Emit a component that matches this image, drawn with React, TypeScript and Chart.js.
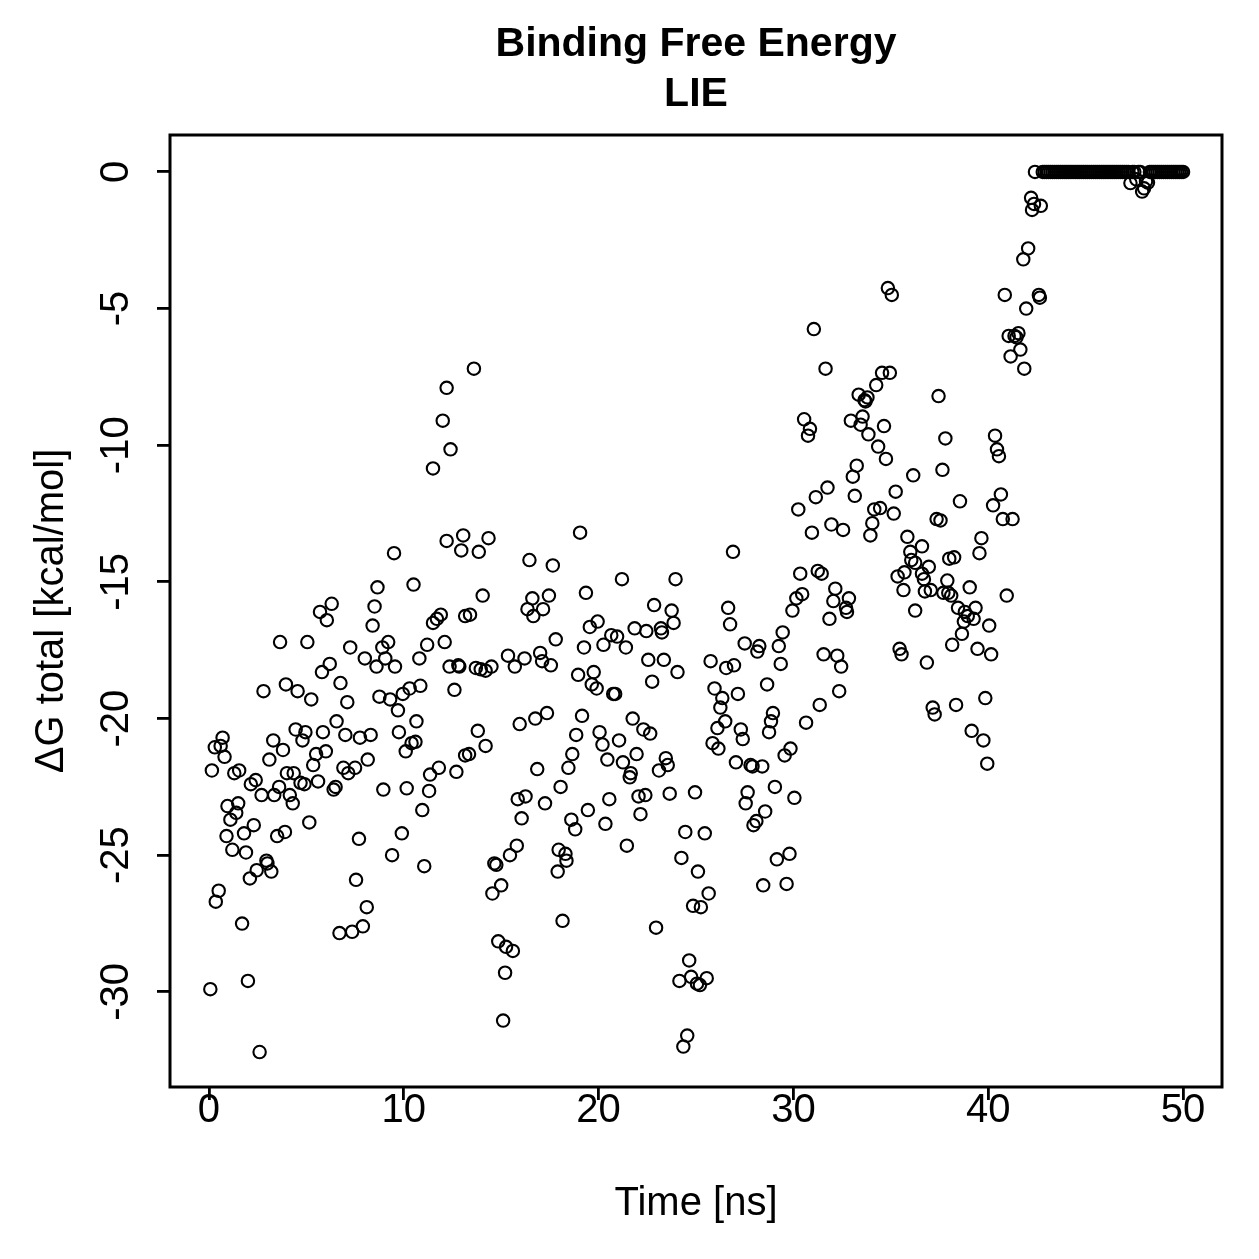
import { useEffect, useRef } from "react";
import { Chart, registerables } from "chart.js";

Chart.register(...registerables);

// ---- Data: [time (ns), ΔG total (kcal/mol)] ----
const points0to10: [number, number][] = [
  [0.07,-29.9],[0.15,-21.9],[0.3,-21.05],[0.35,-26.7],[0.5,-26.3],[0.6,-21.0],[0.7,-20.7],[0.8,-21.4],[0.9,-24.3],[0.95,-23.2],
  [1.1,-23.7],[1.2,-24.8],[1.3,-22.0],[1.4,-23.45],[1.5,-23.1],[1.55,-21.9],[1.7,-27.5],[1.8,-24.2],[1.9,-24.9],[2.0,-29.6],
  [2.1,-25.85],[2.15,-22.4],[2.3,-23.9],[2.4,-22.25],[2.45,-25.55],[2.6,-32.2],[2.7,-22.8],[2.8,-19.0],[2.95,-25.2],[3.0,-25.3],
  [3.1,-21.5],[3.2,-25.6],[3.3,-20.8],[3.35,-22.8],[3.5,-24.3],[3.6,-22.5],[3.65,-17.2],[3.8,-21.15],[3.9,-24.15],[3.95,-18.75],
  [4.0,-22.0],[4.15,-22.8],[4.3,-23.1],[4.35,-22.0],[4.45,-20.4],[4.55,-19.0],[4.7,-22.35],[4.8,-20.8],[4.9,-22.4],[4.95,-20.5],
  [5.05,-17.2],[5.15,-23.8],[5.25,-19.3],[5.35,-21.7],[5.5,-21.3],[5.6,-22.3],[5.7,-16.1],[5.8,-18.3],[5.85,-20.5],[6.0,-21.2],
  [6.05,-16.4],[6.2,-18.0],[6.3,-15.8],[6.4,-22.6],[6.5,-22.5],[6.55,-20.1],[6.7,-27.85],[6.75,-18.7],[6.9,-21.8],[7.0,-20.6],
  [7.1,-19.4],[7.15,-22.0],[7.25,-17.4],[7.35,-27.8],[7.5,-21.8],[7.55,-25.9],[7.7,-24.4],[7.75,-20.7],[7.9,-27.6],[8.0,-17.8],
  [8.1,-26.9],[8.15,-21.5],[8.3,-20.6],[8.4,-16.6],[8.5,-15.9],[8.6,-18.1],[8.65,-15.2],[8.75,-19.2],[8.9,-17.4],[8.95,-22.6],
  [9.05,-17.8],[9.2,-17.2],[9.3,-19.3],[9.4,-25.0],[9.5,-13.95],[9.55,-18.1],[9.7,-19.7],[9.75,-20.5],[9.9,-24.2],[9.95,-19.1],
];

const points10to20: [number, number][] = [
  [10.1,-21.2],[10.15,-22.55],[10.3,-18.9],[10.4,-20.9],[10.5,-15.1],[10.6,-20.85],[10.65,-20.1],[10.8,-17.8],[10.85,-18.8],[10.95,-23.35],
  [11.05,-25.4],[11.2,-17.3],[11.3,-22.65],[11.35,-22.05],[11.5,-16.5],[11.5,-10.85],[11.7,-16.35],[11.8,-21.8],[11.9,-16.2],[12.0,-9.1],
  [12.1,-17.2],[12.2,-7.9],[12.2,-13.5],[12.35,-18.1],[12.4,-10.15],[12.6,-18.95],[12.7,-21.95],[12.8,-18.05],[12.85,-18.1],[12.95,-13.85],
  [13.05,-13.3],[13.15,-16.25],[13.15,-21.35],[13.35,-21.3],[13.4,-16.2],[13.6,-7.2],[13.7,-18.15],[13.8,-20.45],[13.85,-13.9],[13.95,-18.2],
  [14.05,-15.5],[14.2,-18.25],[14.2,-21.0],[14.35,-13.4],[14.5,-18.1],[14.55,-26.4],[14.65,-25.3],[14.75,-25.35],[14.85,-28.15],[15.0,-26.1],
  [15.1,-31.05],[15.2,-29.3],[15.25,-28.35],[15.35,-17.7],[15.45,-25.0],[15.6,-28.5],[15.7,-18.1],[15.8,-24.65],[15.85,-22.95],[15.95,-20.2],
  [16.05,-23.65],[16.2,-17.8],[16.25,-22.85],[16.35,-16.0],[16.45,-14.2],[16.6,-15.6],[16.65,-16.25],[16.75,-20.0],[16.85,-21.85],[17.0,-17.6],
  [17.1,-17.9],[17.15,-16.0],[17.25,-23.1],[17.35,-19.8],[17.45,-15.5],[17.55,-18.05],[17.65,-14.4],[17.8,-17.1],[17.9,-25.6],[17.95,-24.8],
  [18.05,-22.5],[18.15,-27.4],[18.3,-24.95],[18.35,-25.2],[18.45,-21.8],[18.6,-23.7],[18.65,-21.3],[18.8,-24.05],[18.85,-20.6],[18.95,-18.4],
  [19.05,-13.2],[19.15,-19.9],[19.25,-17.4],[19.35,-15.4],[19.45,-23.35],[19.55,-16.65],[19.65,-18.75],[19.75,-18.3],[19.9,-18.9],[19.95,-16.45],
];

const points20to30: [number, number][] = [
  [20.05,-20.5],[20.2,-20.95],[20.25,-17.3],[20.35,-23.85],[20.45,-21.5],[20.55,-22.95],[20.65,-16.95],[20.75,-19.1],[20.85,-19.1],[20.95,-17.0],
  [21.05,-20.8],[21.2,-14.9],[21.25,-21.6],[21.4,-17.4],[21.45,-24.65],[21.6,-22.15],[21.65,-22.0],[21.75,-20.0],[21.85,-16.7],[21.95,-21.3],
  [22.05,-22.85],[22.15,-23.5],[22.3,-20.4],[22.4,-22.8],[22.45,-16.8],[22.55,-17.85],[22.65,-20.55],[22.75,-18.65],[22.85,-15.85],[22.95,-27.65],
  [23.1,-21.9],[23.2,-16.7],[23.25,-16.85],[23.35,-17.85],[23.45,-21.45],[23.55,-21.7],[23.65,-22.75],[23.75,-16.05],[23.85,-16.5],[23.95,-14.9],
  [24.05,-18.3],[24.15,-29.6],[24.25,-25.1],[24.35,-32.0],[24.45,-24.15],[24.55,-31.6],[24.65,-28.85],[24.75,-29.45],[24.85,-26.85],[24.95,-22.7],
  [25.05,-29.7],[25.1,-25.6],[25.2,-29.75],[25.25,-26.9],[25.45,-24.2],[25.55,-29.5],[25.65,-26.4],[25.75,-17.9],[25.85,-20.9],[25.95,-18.9],
  [26.1,-20.35],[26.15,-21.1],[26.25,-19.6],[26.35,-19.25],[26.5,-20.1],[26.55,-18.15],[26.65,-15.95],[26.75,-16.55],[26.9,-13.9],[26.95,-18.05],
  [27.05,-21.6],[27.15,-19.1],[27.3,-20.4],[27.4,-20.75],[27.5,-17.25],[27.55,-23.1],[27.65,-22.7],[27.8,-21.7],[27.9,-21.75],[27.95,-23.9],
  [28.1,-23.75],[28.15,-17.55],[28.25,-17.35],[28.4,-21.75],[28.45,-26.1],[28.55,-23.4],[28.65,-18.75],[28.75,-20.5],[28.85,-20.1],[28.95,-19.8],
  [29.05,-22.5],[29.15,-25.15],[29.25,-17.35],[29.35,-18.0],[29.45,-16.85],[29.55,-21.35],[29.65,-26.05],[29.8,-24.95],[29.85,-21.1],[29.95,-16.05],
];

const points30to43: [number, number][] = [
  [30.05,-22.9],[30.15,-15.6],[30.25,-12.35],[30.35,-14.7],[30.45,-15.45],[30.55,-9.05],[30.65,-20.15],[30.75,-9.65],[30.85,-9.4],[30.95,-13.2],
  [31.05,-5.75],[31.15,-11.9],[31.25,-14.6],[31.35,-19.5],[31.45,-14.7],[31.55,-17.65],[31.65,-7.2],[31.75,-11.55],[31.85,-16.35],[31.95,-12.9],
  [32.05,-15.7],[32.15,-15.25],[32.25,-17.7],[32.35,-19.0],[32.45,-18.1],[32.55,-13.1],[32.7,-15.95],[32.75,-16.1],[32.85,-15.6],[32.95,-9.1],
  [33.05,-11.15],[33.15,-11.85],[33.25,-10.75],[33.35,-8.15],[33.45,-9.25],[33.55,-8.95],[33.65,-8.35],[33.7,-8.4],[33.8,-8.25],[33.85,-9.6],
  [33.95,-13.3],[34.05,-12.85],[34.15,-12.35],[34.25,-7.8],[34.35,-10.05],[34.45,-12.3],[34.55,-7.35],[34.65,-9.3],[34.75,-10.5],[34.85,-4.25],
  [34.95,-7.35],[35.05,-4.5],[35.15,-12.5],[35.25,-11.7],[35.35,-14.8],[35.45,-17.45],[35.55,-17.65],[35.65,-15.3],[35.7,-14.65],[35.85,-13.35],
  [36.0,-13.9],[36.05,-14.2],[36.15,-11.1],[36.25,-14.3],[36.25,-16.05],[36.6,-13.7],[36.6,-14.7],[36.7,-14.9],[36.75,-15.35],[36.85,-17.95],
  [36.95,-14.45],[37.05,-15.3],[37.15,-19.6],[37.25,-19.85],[37.35,-12.7],[37.45,-8.2],[37.55,-12.75],[37.65,-10.9],[37.7,-15.4],[37.8,-9.75],
  [37.9,-14.95],[37.95,-15.4],[38.0,-14.15],[38.1,-15.5],[38.15,-17.3],[38.25,-14.1],[38.35,-19.5],[38.45,-15.95],[38.55,-12.05],[38.65,-16.9],
  [38.75,-16.45],[38.8,-16.1],[38.95,-16.25],[39.05,-15.2],[39.15,-20.45],[39.25,-16.35],[39.35,-15.95],[39.45,-17.45],[39.55,-13.95],[39.65,-13.4],
  [39.75,-20.8],[39.85,-19.25],[39.95,-21.65],[40.05,-16.6],[40.15,-17.65],[40.25,-12.2],[40.35,-9.65],[40.45,-10.15],[40.55,-10.4],[40.65,-11.8],
  [40.75,-12.7],[40.85,-4.5],[40.95,-15.5],[41.05,-6.0],[41.15,-6.75],[41.25,-12.7],[41.35,-6.0],[41.45,-6.05],[41.55,-5.9],[41.65,-6.5],
  [41.8,-3.2],[41.85,-7.2],[41.95,-5.0],[42.05,-2.8],[42.2,-0.95],[42.25,-1.39],[42.35,-1.17],[42.4,0],[42.6,-4.5],[42.65,-4.6],[42.7,-1.24],
];

const plateauPoints: [number, number][] = [
  [42.8,0],[42.9,0],[43.0,0],[43.1,0],[43.2,0],[43.3,0],[43.4,0],[43.5,0],[43.6,0],[43.7,0],
  [43.8,0],[43.9,0],[44.0,0],[44.1,0],[44.2,0],[44.3,0],[44.4,0],[44.5,0],[44.6,0],[44.7,0],
  [44.8,0],[44.9,0],[45.0,0],[45.1,0],[45.2,0],[45.3,0],[45.4,0],[45.5,0],[45.6,0],[45.7,0],
  [45.8,0],[45.9,0],[46.0,0],[46.1,0],[46.2,0],[46.3,0],[46.4,0],[46.5,0],[46.6,0],[46.7,0],
  [46.8,0],[46.9,0],[47.0,0],[47.1,0],[47.2,0],[47.3,-0.41],[47.4,0],[47.5,0],[47.6,-0.27],[47.7,0],
  [47.8,0],[47.9,-0.72],[48.0,-0.6],[48.1,-0.35],[48.2,-0.39],[48.3,0],[48.4,0],[48.5,0],[48.6,0],[48.7,0],
  [48.8,0],[48.9,0],[49.0,0],[49.1,0],[49.2,0],[49.3,0],[49.4,0],[49.5,0],[49.6,0],[49.7,0],
  [49.8,0],[49.9,0],[50.0,0],
];

const titleLines = ["Binding Free Energy", "LIE"];
const xAxisLabel = "Time [ns]";
const yAxisLabel = "ΔG total [kcal/mol]";
const xTickValues = [0, 10, 20, 30, 40, 50];
const yTickValues = [-30, -25, -20, -15, -10, -5, 0];
const xRange = [-2, 52];
const yRange = [-33.48, 1.35];

const FONT = "'Liberation Sans', Arial, Helvetica, sans-serif";

const plotBox = {
  id: "plotBox",
  afterDraw(chart: any) {
    const { ctx, chartArea: a } = chart;
    ctx.save();
    ctx.strokeStyle = "#000";
    ctx.lineWidth = 3;
    ctx.strokeRect(a.left, a.top, a.right - a.left, a.bottom - a.top);
    ctx.restore();
  },
};

export default function App() {
  const ref = useRef<HTMLCanvasElement>(null);

  useEffect(() => {
    const all = [...points0to10, ...points10to20, ...points20to30, ...points30to43, ...plateauPoints];
    const data = all.map(([t, g]) => ({ x: t, y: g }));

    const chart = new Chart(ref.current as HTMLCanvasElement, {
      type: "scatter",
      data: {
        datasets: [
          {
            data,
            pointStyle: "circle",
            pointRadius: 6.2,
            pointBorderWidth: 2.1,
            pointBackgroundColor: "rgba(0,0,0,0)",
            pointBorderColor: "#000",
            showLine: false,
          },
        ],
      },
      options: {
        responsive: false,
        animation: false,
        events: [],
        layout: { padding: { left: 0, right: 37, top: 0, bottom: 0 } },
        plugins: {
          legend: { display: false },
          tooltip: { enabled: false },
          title: {
            display: true,
            text: titleLines,
            fullSize: false,
            color: "#000",
            font: { family: FONT, size: 41, weight: "bold", lineHeight: 50 / 41 },
            padding: { top: 20, bottom: 15 },
          },
        },
        scales: {
          x: {
            type: "linear",
            min: xRange[0],
            max: xRange[1],
            afterBuildTicks: (s: any) => {
              s.ticks = xTickValues.map((v) => ({ value: v }));
            },
            afterFit: (s: any) => {
              s.height = 172;
            },
            border: { display: false },
            grid: {
              display: true,
              drawOnChartArea: false,
              drawTicks: true,
              tickLength: 13,
              color: "#000",
              lineWidth: 2.8,
            },
            ticks: {
              autoSkip: false,
              maxRotation: 0,
              minRotation: 0,
              padding: -13,
              color: "#000",
              font: { family: FONT, size: 40, lineHeight: 1.2 },
              callback: (v: any) => String(v),
            },
            title: {
              display: true,
              text: xAxisLabel,
              color: "#000",
              font: { family: FONT, size: 40, lineHeight: 1.2 },
              padding: { top: 0, bottom: 31 },
            },
          },
          y: {
            type: "linear",
            min: yRange[0],
            max: yRange[1],
            afterBuildTicks: (s: any) => {
              s.ticks = yTickValues.map((v) => ({ value: v }));
            },
            afterFit: (s: any) => {
              s.width = 170;
            },
            border: { display: false },
            grid: {
              display: true,
              drawOnChartArea: false,
              drawTicks: true,
              tickLength: 13,
              color: "#000",
              lineWidth: 2.8,
            },
            ticks: {
              autoSkip: false,
              minRotation: 90,
              maxRotation: 90,
              crossAlign: "center",
              padding: 11,
              color: "#000",
              font: { family: FONT, size: 40, lineHeight: 1.2 },
              callback: (v: any) => String(v),
            },
            title: {
              display: true,
              text: yAxisLabel,
              color: "#000",
              font: { family: FONT, size: 40, lineHeight: 1.2 },
              padding: { top: 28, bottom: 0 },
            },
          },
        },
      },
      plugins: [plotBox],
    } as any);

    return () => chart.destroy();
  }, []);

  return (
    <div style={{ position: "fixed", left: 0, top: 0, width: 1259, height: 1259, background: "#fff" }}>
      <canvas ref={ref} width={1259} height={1259} style={{ display: "block" }} />
    </div>
  );
}
